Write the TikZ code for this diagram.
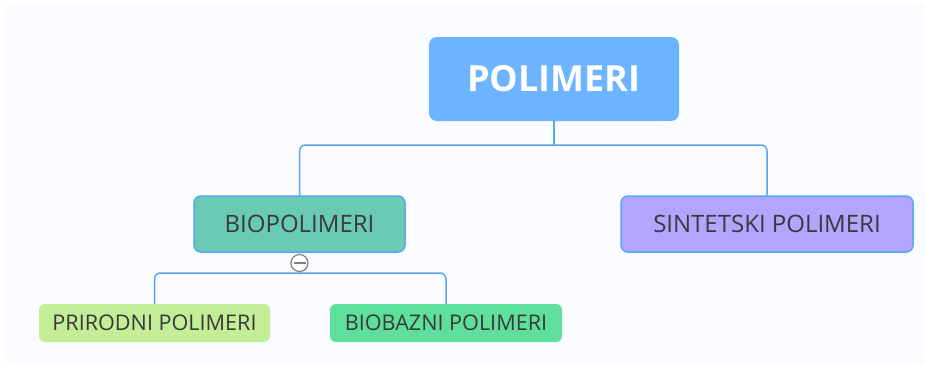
\documentclass[tikz,border=0pt]{standalone}
\usepackage{fontspec}
\setmainfont{Open Sans}
\usepackage{xcolor}
\usetikzlibrary{positioning}

\definecolor{bgpane}{RGB}{249,251,254}
\definecolor{linkblue}{RGB}{84,168,246}
\definecolor{rootblue}{RGB}{108,180,255}
\definecolor{biogreen}{RGB}{106,203,180}
\definecolor{sintviolet}{RGB}{179,165,255}
\definecolor{prirgreen}{RGB}{196,237,152}
\definecolor{biobgreen}{RGB}{94,223,155}
\definecolor{txtgray}{RGB}{58,58,58}

\begin{document}
\begin{tikzpicture}[x=1pt,y=-1pt,
  rootbox/.style={fill=rootblue,rounded corners=8pt,minimum width=250pt,minimum height=84pt,
    text=white,font=\fontsize{36}{40}\selectfont\bfseries,inner sep=0pt},
  subbox/.style={draw=linkblue,line width=1.5pt,rounded corners=7pt,minimum height=56pt,
    text=txtgray,font=\fontsize{24}{26}\selectfont,inner sep=0pt},
  leafbox/.style={rounded corners=6pt,minimum height=38pt,
    text=txtgray,font=\fontsize{21.6}{24}\selectfont,inner sep=0pt},
  link/.style={draw=linkblue,line width=1.5pt,rounded corners=6pt}]
\fill [white] (0,0) rectangle (925,365);
\fill [bgpane] (4,6) rectangle (925,363);
\node [rootbox] (root) at (554,79) {POLIMERI};
\node [subbox,fill=biogreen,minimum width=211pt] (bio) at (299.5,224) {BIOPOLIMERI};
\node [subbox,fill=sintviolet,minimum width=292pt] (sint) at (767,224) {SINTETSKI POLIMERI};
\node [leafbox,fill=prirgreen,minimum width=231pt] (prir) at (154.5,323) {PRIRODNI POLIMERI};
\node [leafbox,fill=biobgreen,minimum width=232pt] (biob) at (446,323) {BIOBAZNI POLIMERI};
\coordinate (rootjoin) at (root.south |- 0,145);
\coordinate (biojoin) at (bio.south |- 0,273);
\draw [link] (root.south) -- (rootjoin);
\draw [link] (bio.north) |- (rootjoin) -| (sint.north);
\draw [link] (bio.south) -- (biojoin);
\draw [link] (prir.north) |- (biojoin) -| (biob.north);
\node [circle,draw=gray,line width=1.2pt,fill=white,minimum size=17pt,inner sep=0pt] (fold) at (299.5,263) {};
\draw [gray,line width=1.2pt] ([xshift=-6pt]fold.center) -- ([xshift=6pt]fold.center);
\end{tikzpicture}
\end{document}
